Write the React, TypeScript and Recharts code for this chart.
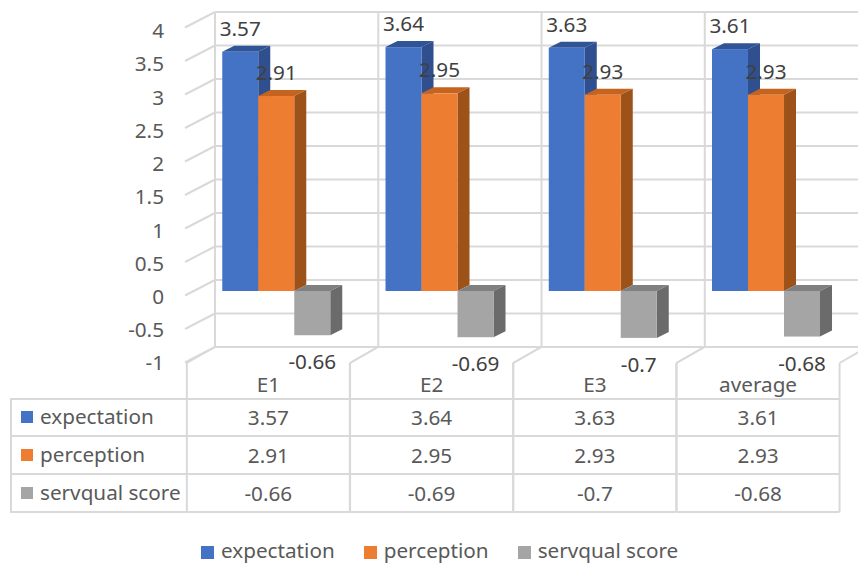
import { BarChart, Bar, XAxis, YAxis, CartesianGrid, Legend, LabelList } from 'recharts';

const categories = ['E1', 'E2', 'E3', 'average'];
const expectation = [3.57, 3.64, 3.63, 3.61];
const perception = [2.91, 2.95, 2.93, 2.93];
const servqualScore = [-0.66, -0.69, -0.7, -0.68];
const valueTicks = [-1, -0.5, 0, 0.5, 1, 1.5, 2, 2.5, 3, 3.5, 4];

const seriesNames = ['expectation', 'perception', 'servqual score'];
const seriesValues = [expectation, perception, servqualScore];
const seriesColors = ['#4472C4', '#ED7D31', '#A5A5A5'];
const sideColors = ['#2F4F8F', '#9C5219', '#6B6B6B'];
const topColors = ['#2F5597', '#C4641F', '#808080'];

const data = categories.map((name, i) => ({
  name,
  expectation: expectation[i],
  perception: perception[i],
  servqual: servqualScore[i],
}));

const FONT = '"Noto Sans", sans-serif';
const FONT_SIZE = 20.7;
const TEXT = '#595959';
const GRID = '#D9D9D9';
const DEPTH_X = 12;
const DEPTH_Y = 6;
const ROW_LINES = [399, 436, 474, 512];
const COL_HALF = 81.5;

// Front face plus the two extruded faces of a column
const makeBox = (idx: number) => (props: any) => {
  const { x, y, width, height } = props;
  const top = Math.min(y, y + height);
  const bottom = Math.max(y, y + height);
  const right = x + width;
  return (
    <g>
      <polygon
        points={`${x},${top} ${x + DEPTH_X},${top - DEPTH_Y} ${right + DEPTH_X},${top - DEPTH_Y} ${right},${top}`}
        fill={topColors[idx]}
      />
      <polygon
        points={`${right},${top} ${right + DEPTH_X},${top - DEPTH_Y} ${right + DEPTH_X},${bottom - DEPTH_Y} ${right},${bottom}`}
        fill={sideColors[idx]}
      />
      <rect x={x} y={top} width={width} height={bottom - top} fill={seriesColors[idx]} />
    </g>
  );
};

const renderValue = (props: any) => {
  const { x, y, width, height, value } = props;
  const top = Math.min(y, y + height);
  const bottom = Math.max(y, y + height);
  const labelY = value < 0 ? bottom + 26 : top - 24;
  return (
    <text
      x={x + width / 2}
      y={labelY}
      textAnchor="middle"
      dominantBaseline="central"
      fontFamily={FONT}
      fontSize={FONT_SIZE}
      fill="#404040"
    >
      {value}
    </text>
  );
};

// Back wall line and the short diagonal on the side wall
const wallLine = (props: any) => {
  const backY = props.y1 - 11;
  return (
    <g key={props.key}>
      <line x1={215} y1={backY} x2={858} y2={backY} stroke={GRID} strokeWidth={2} />
      <line x1={215} y1={backY} x2={185} y2={backY + 15.5} stroke={GRID} strokeWidth={2} />
    </g>
  );
};

const wallColumn = (props: any) => {
  const backX = props.x1 - 61.6;
  return <line key={props.key} x1={backX} y1={13} x2={backX} y2={347} stroke={GRID} strokeWidth={2} />;
};

// Tick labels sit on the nearer edge of the side wall, slightly tighter than the columns
const ValueTick = (props: any) => (
  <text
    x={164}
    y={296 + (props.y - 291) * 0.992}
    textAnchor="end"
    dominantBaseline="central"
    fontFamily={FONT}
    fontSize={FONT_SIZE}
    fill={TEXT}
  >
    {props.payload.value}
  </text>
);

// Each category tick carries its whole column of the data table
const TableColumn = (props: any) => {
  const { x, index, payload } = props;
  const center = x - 8.3;
  const left = center - COL_HALF;
  const right = center + COL_HALF;
  return (
    <g fontFamily={FONT} fontSize={FONT_SIZE} fill={TEXT}>
      <line x1={left} y1={363} x2={left} y2={512} stroke={GRID} strokeWidth={2} />
      <line x1={left} y1={363} x2={left + 28} y2={347} stroke={GRID} strokeWidth={2} />
      <line x1={right} y1={363} x2={right} y2={512} stroke={GRID} strokeWidth={2} />
      <line x1={right} y1={363} x2={right + 28} y2={347} stroke={GRID} strokeWidth={2} />
      {ROW_LINES.map((rowY) => (
        <line key={rowY} x1={left} y1={rowY} x2={right} y2={rowY} stroke={GRID} strokeWidth={2} />
      ))}
      <text x={center} y={384} textAnchor="middle" dominantBaseline="central">
        {payload.value}
      </text>
      {seriesValues.map((values, row) => (
        <text
          key={row}
          x={center}
          y={416.5 + row * 38}
          textAnchor="middle"
          dominantBaseline="central"
        >
          {values[index]}
        </text>
      ))}
      {index === 0 && (
        <g>
          <line x1={11} y1={398} x2={11} y2={513} stroke={GRID} strokeWidth={2} />
          {ROW_LINES.map((rowY) => (
            <line key={rowY} x1={11} y1={rowY} x2={left} y2={rowY} stroke={GRID} strokeWidth={2} />
          ))}
          {seriesNames.map((name, row) => (
            <g key={name}>
              <rect x={21} y={411 + row * 38} width={12} height={12} fill={seriesColors[row]} />
              <text x={40} y={415.5 + row * 38} dominantBaseline="central">
                {name}
              </text>
            </g>
          ))}
        </g>
      )}
    </g>
  );
};

const LegendRow = (props: any) => (
  <div style={{ display: 'flex', paddingLeft: 201, gap: 29, height: 22, alignItems: 'center' }}>
    {props.payload.map((item: any) => (
      <div key={item.value} style={{ display: 'flex', alignItems: 'center', gap: 7 }}>
        <span
          style={{
            width: 13,
            height: 13,
            background: item.color,
            display: 'inline-block',
            position: 'relative',
            top: 2,
          }}
        />
        <span style={{ fontFamily: FONT, fontSize: FONT_SIZE, color: TEXT, lineHeight: '22px' }}>{item.value}</span>
      </div>
    ))}
  </div>
);

export default function App() {
  return (
    <div style={{ position: 'absolute', left: 0, top: 0, background: '#fff' }}>
      <BarChart
        width={858}
        height={564}
        data={data}
        margin={{ top: 23, right: 10, bottom: 154, left: 0 }}
        barCategoryGap="16.7%"
        barGap={0}
      >
        <CartesianGrid syncWithTicks horizontal={wallLine} vertical={wallColumn} />
        <XAxis dataKey="name" axisLine={false} tickLine={false} interval={0} height={30} tick={TableColumn} />
        <YAxis
          width={195}
          domain={[-1, 4]}
          ticks={valueTicks}
          interval={0}
          axisLine={false}
          tickLine={false}
          tick={ValueTick}
        />
        <Legend
          verticalAlign="bottom"
          content={LegendRow}
          wrapperStyle={{ top: 539, left: 0, width: 858, height: 22 }}
        />
        <Bar dataKey="expectation" name={seriesNames[0]} fill={seriesColors[0]} shape={makeBox(0)} isAnimationActive={false}>
          <LabelList dataKey="expectation" content={renderValue} />
        </Bar>
        <Bar dataKey="perception" name={seriesNames[1]} fill={seriesColors[1]} shape={makeBox(1)} isAnimationActive={false}>
          <LabelList dataKey="perception" content={renderValue} />
        </Bar>
        <Bar dataKey="servqual" name={seriesNames[2]} fill={seriesColors[2]} shape={makeBox(2)} isAnimationActive={false}>
          <LabelList dataKey="servqual" content={renderValue} />
        </Bar>
      </BarChart>
    </div>
  );
}
